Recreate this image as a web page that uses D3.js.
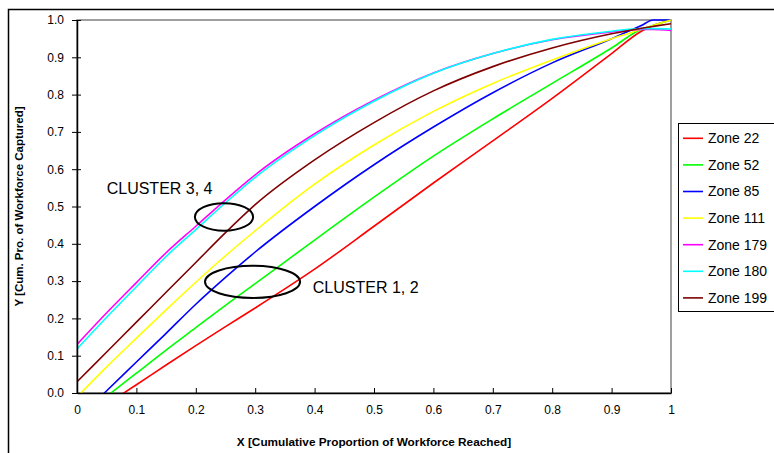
<!DOCTYPE html>
<html>
<head>
<meta charset="utf-8">
<script src="https://cdn.jsdelivr.net/npm/d3@7"></script>
<style>
  body { margin: 0; background: #fff; }
  svg { font-family: "Liberation Sans", Arial, sans-serif; }
</style>
</head>
<body>
<div id="chart"></div>
<script>
// x positions shared by every zone curve
const xs = [0, 0.05, 0.1, 0.15, 0.2, 0.25, 0.3, 0.4, 0.5, 0.6, 0.7, 0.8, 0.9, 0.95, 0.97, 1.0];

// cumulative proportion captured (below 0 is clipped)
const zone22  = [-0.083, -0.03, 0.022, 0.075, 0.127, 0.178, 0.228, 0.332, 0.447, 0.563, 0.676, 0.79, 0.91, 0.97, 0.985, 1.0];
const zone52  = [-0.072, -0.009, 0.053, 0.115, 0.175, 0.235, 0.293, 0.41, 0.525, 0.635, 0.735, 0.83, 0.925, 0.975, 0.985, 1.0];
const zone85  = [-0.072, 0.006, 0.083, 0.16, 0.238, 0.31, 0.378, 0.5, 0.612, 0.713, 0.805, 0.885, 0.95, 0.985, 1.0, 1.0];
const zone111 = [-0.011, 0.07, 0.147, 0.223, 0.297, 0.368, 0.435, 0.56, 0.665, 0.755, 0.83, 0.893, 0.95, 0.975, 0.985, 1.0];
const zone179 = [0.13, 0.215, 0.296, 0.376, 0.447, 0.518, 0.585, 0.695, 0.785, 0.858, 0.91, 0.947, 0.968, 0.975, 0.975, 0.972];
const zone180 = [0.118, 0.203, 0.285, 0.366, 0.438, 0.51, 0.578, 0.69, 0.782, 0.857, 0.91, 0.948, 0.97, 0.977, 0.977, 0.976];
const zone199 = [0.03, 0.11, 0.19, 0.27, 0.35, 0.43, 0.505, 0.625, 0.725, 0.81, 0.875, 0.925, 0.963, 0.978, 0.983, 0.99];

const zoneNames = ["Zone 22", "Zone 52", "Zone 85", "Zone 111", "Zone 179", "Zone 180", "Zone 199"];
const zoneValues = [zone22, zone52, zone85, zone111, zone179, zone180, zone199];
const zoneColors = ["#ff0000", "#00ff00", "#0000ff", "#ffff00", "#ff00ff", "#00ffff", "#800000"];

const xTicks = [0, 0.1, 0.2, 0.3, 0.4, 0.5, 0.6, 0.7, 0.8, 0.9, 1];
const yTicks = [0, 0.1, 0.2, 0.3, 0.4, 0.5, 0.6, 0.7, 0.8, 0.9, 1.0];

// cluster ellipses in data units
const clusters = [
    { label: "CLUSTER 3, 4", cx: 0.2475, cy: 0.472, rx: 0.049, ry: 0.037, tx: 0.05, ty: 0.548 },
    { label: "CLUSTER 1, 2", cx: 0.2955, cy: 0.298, rx: 0.08, ry: 0.043, tx: 0.397, ty: 0.283 }
];

const width = 774;
const height = 453;
const margin = { top: 20, right: 103, bottom: 60, left: 77 };

const svg = d3.select("#chart")
    .append("svg")
    .attr("width", width)
    .attr("height", height);

// outer chart frame
svg.append("rect")
    .attr("x", 8.5)
    .attr("y", 9.5)
    .attr("width", width + 10)
    .attr("height", height + 10)
    .attr("fill", "none")
    .attr("stroke", "#000")
    .attr("stroke-width", 1.5);

const x = d3.scaleLinear()
    .domain([0, 1])
    .range([margin.left, width - margin.right]);

const y = d3.scaleLinear()
    .domain([0, 1])
    .range([height - margin.bottom, margin.top]);

// plot area border
svg.append("rect")
    .attr("x", x(0))
    .attr("y", y(1))
    .attr("width", x(1) - x(0))
    .attr("height", y(0) - y(1))
    .attr("fill", "none")
    .attr("stroke", "#808080")
    .attr("stroke-width", 1.5);

svg.append("clipPath")
    .attr("id", "plot-clip")
    .append("rect")
    .attr("x", x(0))
    .attr("y", y(1) - 1)
    .attr("width", x(1) - x(0))
    .attr("height", y(0) - y(1) + 1);

const line = d3.line()
    .x((d, i) => x(xs[i]))
    .y(d => y(d))
    .curve(d3.curveMonotoneX);

svg.append("g")
    .attr("clip-path", "url(#plot-clip)")
    .selectAll(".zone")
    .data(zoneValues)
    .enter()
    .append("path")
    .attr("class", "zone")
    .attr("d", d => line(d))
    .attr("fill", "none")
    .attr("stroke", (d, i) => zoneColors[i])
    .attr("stroke-width", 1.6);

// x-axis, ticks point up into the plot
const xAxis = svg.append("g")
    .attr("transform", `translate(0,${y(0)})`)
    .call(d3.axisBottom(x).tickValues(xTicks).tickSizeInner(-5).tickSizeOuter(0).tickPadding(12)
        .tickFormat(d => d === 0 || d === 1 ? d3.format("d")(d) : d3.format(".1f")(d)));
xAxis.select(".domain").attr("stroke", "#000").attr("stroke-width", 1.5);
xAxis.selectAll("text").style("font-size", "12px").attr("fill", "#000");

// y-axis, ticks cross the axis line
const yAxis = svg.append("g")
    .attr("transform", `translate(${x(0)},0)`)
    .call(d3.axisLeft(y).tickValues(yTicks).tickSizeInner(5).tickSizeOuter(0).tickPadding(8)
        .tickFormat(d3.format(".1f")));
yAxis.select(".domain").attr("stroke", "#000").attr("stroke-width", 1.5);
yAxis.selectAll(".tick line").attr("x2", -5).attr("x1", 4);
yAxis.selectAll("text").style("font-size", "12px").attr("fill", "#000");

// axis titles
svg.append("text")
    .attr("x", (x(0) + x(1)) / 2)
    .attr("y", 446)
    .attr("text-anchor", "middle")
    .style("font-size", "11.8px")
    .style("font-weight", "bold")
    .text("X [Cumulative Proportion of Workforce Reached]");

svg.append("text")
    .attr("transform", `translate(23,${(y(0) + y(1)) / 2}) rotate(-90)`)
    .attr("text-anchor", "middle")
    .style("font-size", "11.5px")
    .style("font-weight", "bold")
    .text("Y [Cum. Pro. of Workforce Captured]");

// cluster annotations
svg.selectAll(".cluster")
    .data(clusters)
    .enter()
    .append("ellipse")
    .attr("class", "cluster")
    .attr("cx", d => x(d.cx))
    .attr("cy", d => y(d.cy))
    .attr("rx", d => x(d.rx) - x(0))
    .attr("ry", d => y(0) - y(d.ry))
    .attr("fill", "none")
    .attr("stroke", "#000")
    .attr("stroke-width", 2);

svg.selectAll(".cluster-label")
    .data(clusters)
    .enter()
    .append("text")
    .attr("class", "cluster-label")
    .attr("x", d => x(d.tx))
    .attr("y", d => y(d.ty))
    .attr("dy", "0.35em")
    .style("font-size", "16px")
    .text(d => d.label);

// legend
const legend = svg.append("g");

legend.append("rect")
    .attr("x", 678.5)
    .attr("y", 123.5)
    .attr("width", 110)
    .attr("height", 188)
    .attr("fill", "#fff")
    .attr("stroke", "#000")
    .attr("stroke-width", 1);

const legendItem = legend.selectAll(".legend-item")
    .data(zoneNames)
    .enter()
    .append("g")
    .attr("class", "legend-item")
    .attr("transform", (d, i) => `translate(0,${138.3 + i * 26.6})`);

legendItem.append("line")
    .attr("x1", 683)
    .attr("x2", 703)
    .attr("stroke", (d, i) => zoneColors[i])
    .attr("stroke-width", 1.6);

legendItem.append("text")
    .attr("x", 708)
    .attr("dy", "0.35em")
    .style("font-size", "14px")
    .text(d => d);
</script>
</body>
</html>
